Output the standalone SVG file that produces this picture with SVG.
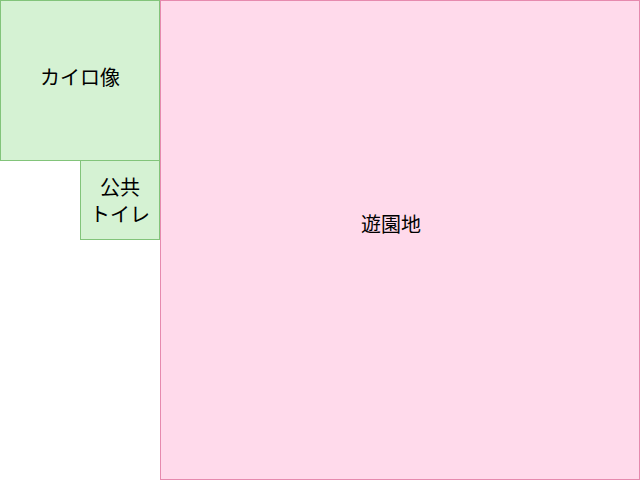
<svg xmlns="http://www.w3.org/2000/svg" width="640" height="480" viewBox="0 0 640 480">
<style>
.g{fill:#d5f2d3;stroke:#82c47a;stroke-width:1}
.p{fill:#ffdaeb;stroke:#e68aae;stroke-width:1}
text{font-family:"Noto Sans CJK JP","Liberation Sans",sans-serif;font-size:20px;fill:#000;text-anchor:middle;dominant-baseline:central}
</style>
<g id="cairo"><rect class="g" x="0.5" y="0.5" width="159" height="160"/><text x="80" y="76">カイロ像</text></g>
<g id="toilet"><rect class="g" x="80.5" y="160.5" width="79" height="79"/><text x="120" y="186">公共</text><text x="120" y="213">トイレ</text></g>
<g id="park"><rect class="p" x="160.5" y="0.5" width="479" height="479"/><text x="391" y="223">遊園地</text></g>
<g id="connectors"/>
</svg>
